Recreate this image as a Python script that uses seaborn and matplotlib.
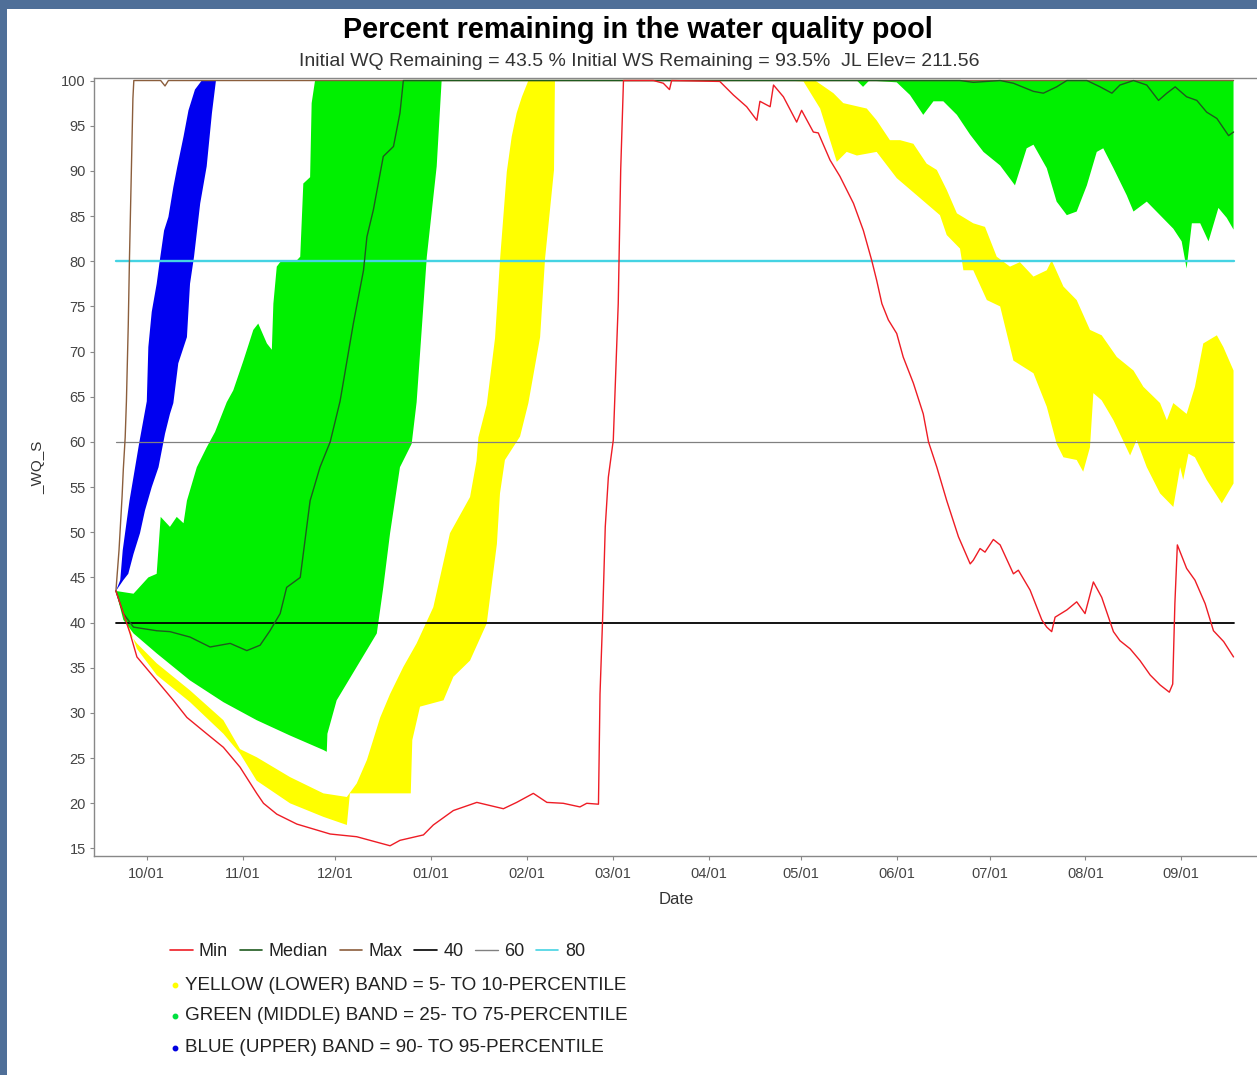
import numpy as np
import pandas as pd
import matplotlib
matplotlib.use("Agg")
import matplotlib.pyplot as plt
import matplotlib.dates as mdates
from matplotlib.lines import Line2D
from matplotlib.patches import Rectangle
import seaborn as sns

# ---------------- data (day offsets from 10/01) ----------------
BASE = "2006-10-01"

max_days = [-10, -9, -8, -7.6, -7, -6.6, -6, -5.6, -5, -4.5, -4.2, 4.5, 5.9, 7, 352]
max_vals = [43.5, 48, 54, 57, 60.5, 64.5, 73, 80.5, 90, 98, 100, 100, 99.4, 100, 100]

min_days = [-10, -5.4, -3.2, 3.2, 8.6, 13, 19.4, 24.8, 30.2, 35.6, 37.8, 42.1, 48.6, 59.4, 68,
            78.8, 82, 89.6, 92.8, 99.3, 106.9, 115.5, 119.8, 125.2, 129.6, 134.9, 140.3, 142.5,
            146.3, 146.8, 147.6, 148.5, 149.5, 151.1, 152.7, 153.5, 154.4, 164.1, 167.3, 169.3,
            170, 185.6, 190, 194.3, 197.6, 198.6, 201.9, 203, 206.2, 210.5, 212.1, 215.9, 217.5,
            221.3, 224.5, 228.9, 232.1, 234.8, 236.4, 238.1, 240.2, 242.9, 245, 248.3, 251.5,
            253.2, 255.9, 259.1, 262.9, 266.7, 267.7, 269.9, 271.5, 274.2, 276.4, 280.7, 282.3,
            286.1, 289.9, 291.5, 293.1, 294.2, 298, 301.2, 303.9, 306.6, 309.3, 313.1, 315.2,
            318.5, 321.7, 325, 328.2, 331.2, 332.3, 333, 333.8, 336.8, 339.5, 342.8, 345.5,
            348.8, 352]
min_vals = [43.5, 38.8, 36.2, 33.6, 31.4, 29.5, 27.7, 26.2, 24, 21.1, 20, 18.8, 17.7, 16.6, 16.3,
            15.3, 15.9, 16.5, 17.6, 19.2, 20.1, 19.4, 20.1, 21.1, 20.1, 20, 19.6, 20,
            19.9, 32.1, 40, 50.6, 56.1, 60.2, 75.3, 90.1, 100, 100, 99.7, 99,
            100, 99.9, 98.4, 97.1, 95.6, 97.7, 97.1, 99.5, 98.2, 95.4, 96.7, 94.3, 94.2,
            91.2, 89.4, 86.4, 83.4, 80.1, 77.9, 75.3, 73.5, 72, 69.4, 66.5, 63.1,
            60, 57.2, 53.5, 49.5, 46.5, 46.9, 48.2, 47.8, 49.2, 48.6, 45.4, 45.8,
            43.6, 40.3, 39.5, 39, 40.6, 41.4, 42.3, 41, 44.5, 42.8, 39, 38,
            37.1, 35.8, 34.2, 33.1, 32.3, 33.2, 42.1, 48.6, 46, 44.7, 42.1, 39.1,
            37.9, 36.2]

median_days = [-10, -7.6, -4.3, 3.2, 7.5, 14, 20.5, 27, 32.4, 36.7, 39.9, 43.2, 45.3, 49.7,
               52.9, 56.1, 59.4, 62.6, 66.9, 70.2, 71.3, 73.4, 76.6, 79.9, 82, 83.1, 263.4,
               267.7, 276.4, 280.7, 287.2, 290.4, 294.7, 298, 304.5, 308.8, 312.6, 315.2,
               319.6, 323.9, 327.7, 330.4, 333.1, 336.8, 340.1, 343.3, 346.6, 350.4, 352]
median_vals = [43.5, 41, 39.5, 39.1, 39, 38.4, 37.3, 37.7, 36.9, 37.5, 39.1, 41, 43.9, 45,
               53.5, 57.2, 60, 64.5, 73.1, 79, 82.7, 85.7, 91.6, 92.7, 96.4, 100, 100,
               99.8, 100, 99.7, 98.8, 98.6, 99.3, 100, 100, 99.3, 98.6, 99.5,
               100, 99.5, 97.8, 98.6, 99.3, 98.2, 97.8, 96.5, 95.8, 93.9, 94.3]

# blue band: 90- to 95-percentile
p95_days = [-10, -8.6, -7.8, -5.6, -2.4, 0, 0.5, 1.6, 3.2, 4.3, 5.6, 7, 8.6, 9.9, 11.9, 13.5,
            15.6, 17.8, 352]
p95_vals = [43.5, 44.7, 48, 53.5, 60, 64.5, 70.5, 74.4, 77.5, 80.3, 83.4, 84.9, 88.2, 90.5,
            93.8, 96.7, 99, 100, 100]
p90_days = [-10, -7.6, -6, -4.3, -2.2, -0.6, 1.6, 3.8, 5.9, 7.5, 8.6, 10.2, 13, 14, 15.3,
            17.3, 19.4, 21.1, 22.4, 352]
p90_vals = [43.5, 44.7, 45.4, 47.6, 49.9, 52.4, 55, 57.2, 60.9, 63.1, 64.3, 68.7, 71.6, 77.5,
            80.5, 86.4, 90.5, 96.4, 100, 100]

# green band: 25- to 75-percentile
p75_days = [-10, -4.3, 0.5, 3.2, 4.5, 7.5, 9.7, 11.9, 13, 16.2, 19.4, 22.1, 25.9, 28, 31.3,
            34.5, 36.1, 38.9, 40.5, 41, 42.1, 43.2, 48.6, 49.7, 50.7, 52.9, 53.4, 54.5, 352]
p75_vals = [43.5, 43.2, 45, 45.4, 51.7, 50.6, 51.7, 51, 53.5, 57.2, 59.4, 61.1, 64.4, 65.7, 69,
            72.4, 73.1, 70.9, 70.2, 75.3, 79.4, 79.9, 80.1, 80.5, 88.6, 89.3, 97.5, 100, 100]
p25_days = [-10, -7.6, -4.3, 3.2, 14, 24.8, 35.6, 46.4, 57.2, 58.3, 58.5, 61.5, 68, 74.5,
            76.6, 78.8, 82, 85.8, 87.4, 90.7, 93.9, 95.5, 230, 232, 234, 242.9, 247.2,
            251.5, 254.8, 258, 262.4, 266.7, 271, 276.4, 281.2, 285, 287.2, 291.5, 294.7,
            298, 301.2, 304.5, 307.7, 309.8, 313.1, 317.4, 319.6, 323.9, 328.2, 332.5,
            335.2, 336.8, 338.5, 341.2, 343.9, 347.1, 349.8, 352]
p25_vals = [43.5, 40.3, 38.8, 36.6, 33.6, 31.2, 29.2, 27.5, 25.9, 25.7, 27.7, 31.4, 35.1, 38.8,
            43.9, 49.9, 57.2, 59.8, 64.4, 80.5, 90.5, 100, 100, 99.3, 100, 99.8, 98.4,
            96.2, 97.7, 97.7, 96.2, 94, 92.1, 90.6, 88.4, 92.5, 92.9, 90.3, 86.6,
            85.1, 85.5, 88.4, 92.1, 92.5, 90.3, 87.3, 85.5, 86.6, 85.1, 83.6,
            82.2, 79.2, 84.2, 84.2, 82.2, 85.9, 84.8, 83.5]

# yellow band: 5- to 10-percentile
p10_days = [-10, -5.4, -3.2, 3.2, 14, 24.8, 30.2, 35.6, 46.4, 57.2, 64.8, 68, 71.3, 75.6,
            78.8, 83.1, 87.4, 92.8, 98.2, 104.7, 106.8, 107.4, 110.1, 112.8, 114.4, 116.6,
            118.2, 119.8, 121.5, 123.6, 216.5, 222.4, 225.6, 233.2, 236.4, 240.7, 244,
            248.3, 252.6, 255.9, 259.1, 262.4, 267.7, 271.5, 275.3, 279.6, 282.8, 287.2,
            291.5, 293.1, 296.9, 301.2, 305.5, 309.3, 314.2, 319.6, 322.8, 328.2, 330.4,
            332.5, 336.8, 339.5, 342.2, 346.6, 348.7, 352]
p10_vals = [43.5, 38.7, 37.7, 35.5, 32.5, 29.2, 26, 25.1, 22.9, 21.1, 20.7, 22.2, 24.8, 29.5,
            32.1, 35.1, 37.7, 41.7, 49.9, 53.9, 57.9, 60.5, 64.1, 71.5, 80.1, 89.9,
            93.8, 96.4, 98.2, 100, 100, 98.6, 97.5, 96.9, 95.6, 93.4, 93.4,
            93, 90.8, 90.1, 87.9, 85.3, 84.2, 83.8, 80.5, 79.4, 79.9, 78.3,
            79, 80.1, 77.2, 75.7, 72.4, 71.8, 69.4, 67.9, 66.1, 64.3, 62.4,
            64.3, 63.1, 66.1, 70.9, 71.8, 70.5, 67.9]
p5_days = [-10, -3.2, 3.2, 14, 24.8, 30.2, 35.6, 46.4, 57.2, 64.8, 65.8, 85.5, 86, 88.5, 96.1,
           99.3, 104.7, 110.1, 113.4, 114.4, 116, 120.9, 123.6, 127.4, 129, 131.9, 132.2,
           207, 212.7, 218.1, 223.5, 226.7, 230, 236.4, 242.9, 249.4, 256.9, 259.1, 263.4,
           264.5, 267.7, 272.1, 276.4, 280.7, 287.2, 291.5, 294.7, 296.9, 301.2, 303.3,
           305.5, 306.6, 309.3, 313.1, 318.5, 320.6, 323.9, 328.2, 332.5, 334.7, 335.7,
           337.4, 339.5, 343.3, 348.2, 352]
p5_vals = [43.5, 37.1, 34.2, 31.2, 27.7, 25.5, 22.5, 20, 18.5, 17.6, 21.1, 21.1, 27, 30.7, 31.4,
           34, 35.8, 39.9, 48.7, 54.3, 58, 60.6, 64.3, 71.6, 80.3, 90.1, 100,
           100, 99.9, 96.9, 91, 92.1, 91.7, 92.1, 89.2, 87.3, 85.1, 82.9, 81.4,
           79, 79, 75.7, 75, 69, 67.6, 63.9, 59.8, 58.3, 58, 56.7,
           59.4, 65.4, 64.6, 62.4, 58.5, 60.2, 57.2, 54.3, 52.8, 57.2, 55.8,
           58.7, 58.3, 55.8, 53.2, 55.4]

ref_days = [-10, 352]
ref40 = [40, 40]
ref60 = [60, 60]
ref80 = [80, 80]

month_ticks = ["2006-10-01", "2006-11-01", "2006-12-01", "2007-01-01", "2007-02-01",
               "2007-03-01", "2007-04-01", "2007-05-01", "2007-06-01", "2007-07-01",
               "2007-08-01", "2007-09-01"]
y_ticks = list(range(15, 101, 5))

title = "Percent remaining in the water quality pool"
subtitle = "Initial WQ Remaining = 43.5 % Initial WS Remaining = 93.5%  JL Elev= 211.56"
band_labels = ["YELLOW (LOWER) BAND = 5- TO 10-PERCENTILE",
               "GREEN (MIDDLE) BAND = 25- TO 75-PERCENTILE",
               "BLUE (UPPER) BAND = 90- TO 95-PERCENTILE"]

# ---------------- drawing ----------------
sns.set_theme(style="white")
plt.rcParams['font.family'] = ['Liberation Sans', 'DejaVu Sans']

W, H = 1257, 1075
fig = plt.figure(figsize=(W / 100, H / 100), dpi=100, facecolor="#4f6f98")
fig.add_artist(Rectangle((7 / W, 0), 1 - 7 / W, 1 - 9 / H, transform=fig.transFigure,
                         facecolor="white", edgecolor="none", zorder=0))

ax = fig.add_axes([94 / W, 1 - 855.7 / H, (W - 94) / W, (855.7 - 78) / H])
ax.set_facecolor("white")


def to_num(days):
    d = pd.Timestamp(BASE) + pd.to_timedelta(np.asarray(days, float), unit="D")
    return mdates.date2num(d.to_pydatetime())


def to_dt(days):
    return pd.Timestamp(BASE) + pd.to_timedelta(np.asarray(days, float), unit="D")


ax.xaxis_date()


def band(up_d, up_v, lo_d, lo_v, color):
    xs = np.concatenate([to_num(up_d), to_num(lo_d)[::-1]])
    ys = np.concatenate([np.asarray(up_v, float), np.asarray(lo_v, float)[::-1]])
    ax.fill(xs, ys, color=color, lw=0, zorder=1)


band(p10_days, p10_vals, p5_days, p5_vals, "#ffff00")
band(p75_days, p75_vals, p25_days, p25_vals, "#00f000")
band(p95_days, p95_vals, p90_days, p90_vals, "#0000f0")

c_min, c_med, c_max = "#ee1c25", "#1f5a1f", "#8b5e3c"
c40, c60, c80 = "#000000", "#808080", "#45d3e3"

sns.lineplot(x=to_dt(ref_days), y=ref60, ax=ax, color=c60, lw=0.9, zorder=2, estimator=None, sort=False)
sns.lineplot(x=to_dt(ref_days), y=ref40, ax=ax, color=c40, lw=1.3, zorder=2, estimator=None, sort=False)
sns.lineplot(x=to_dt(ref_days), y=ref80, ax=ax, color=c80, lw=1.7, zorder=2, estimator=None, sort=False)
sns.lineplot(x=to_dt(max_days), y=max_vals, ax=ax, color=c_max, lw=1.0, zorder=3, estimator=None, sort=False)
sns.lineplot(x=to_dt(median_days), y=median_vals, ax=ax, color=c_med, lw=1.0, zorder=3, estimator=None, sort=False)
sns.lineplot(x=to_dt(min_days), y=min_vals, ax=ax, color=c_min, lw=1.0, zorder=4, estimator=None, sort=False)

ax.set_xlim(to_num([-17.1])[0], to_num([359.6])[0])
ax.set_ylim(14.2, 100.28)
ax.set_xticks(to_num([(pd.Timestamp(t) - pd.Timestamp(BASE)).days for t in month_ticks]))
ax.xaxis.set_major_formatter(mdates.DateFormatter("%m/%d"))
ax.set_yticks(y_ticks)
ax.set_xlabel("")
ax.set_ylabel("")
ax.tick_params(axis="both", which="major", direction="out", length=3, width=0.8,
               color="#888888", labelsize=10.5, labelcolor="#444444", pad=3,
               bottom=True, left=True)
ax.tick_params(axis="x", pad=5)
for s in ["left", "bottom", "top"]:
    ax.spines[s].set_color("#888888")
    ax.spines[s].set_linewidth(1.0)
ax.spines["right"].set_visible(False)

# texts
fig.text(638 / W, 1 - 30 / H, title, ha="center", va="center", fontsize=20.8,
         fontweight="bold", color="black")
fig.text(639 / W, 1 - 61 / H, subtitle, ha="center", va="center", fontsize=14,
         color="#333333")
fig.text(38 / W, 1 - 467 / H, "_WQ_S", rotation=90, ha="center", va="center",
         fontsize=11, color="#333333")
fig.text(676 / W, 1 - 900 / H, "Date", ha="center", va="center", fontsize=12,
         color="#333333")

handles = [Line2D([], [], color=c_min, lw=1.2), Line2D([], [], color=c_med, lw=1.2),
           Line2D([], [], color=c_max, lw=1.2), Line2D([], [], color=c40, lw=1.2),
           Line2D([], [], color=c60, lw=1.0), Line2D([], [], color=c80, lw=1.2)]
labels = ["Min", "Median", "Max", "40", "60", "80"]
fig.legend(handles, labels, loc="center left", bbox_to_anchor=(170 / W, 1 - 952 / H),
           ncol=6, frameon=False, fontsize=13, handlelength=1.25, handletextpad=0.35,
           columnspacing=0.65, borderpad=0, borderaxespad=0, labelcolor="#222222")

band_colors = ["#ffff00", "#00e040", "#0000e0"]
band_y = [985, 1016, 1048]
for lab, col, yy in zip(band_labels, band_colors, band_y):
    fig.add_artist(Line2D([175 / W], [1 - yy / H], marker="o", markersize=3.2, color=col,
                          ls="", transform=fig.transFigure))
    fig.text(185 / W, 1 - yy / H, lab, ha="left", va="center", fontsize=13.6, color="#222222")

fig.savefig("out.png", dpi=100, facecolor=fig.get_facecolor())
